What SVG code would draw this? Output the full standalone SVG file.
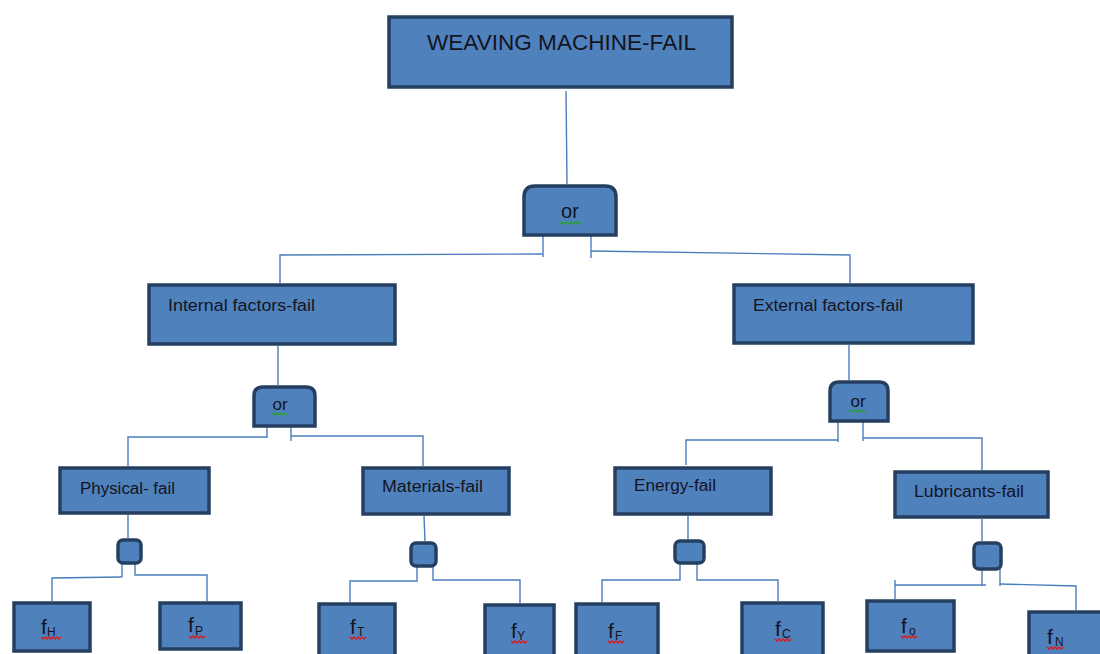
<svg xmlns="http://www.w3.org/2000/svg" width="1100" height="654" viewBox="0 0 1100 654">
<defs>
<style>
.box{fill:#4F81BD;stroke:#243F60;stroke-width:3.5}
.gate{fill:#4F81BD;stroke:#243F60;stroke-width:3.5}
.lbl{font-family:"Liberation Sans",Arial,sans-serif;fill:#14141f}
.big{font-size:22px}
.mid{font-size:16px}
.or{font-size:20px}
.f{font-size:21px}
.sub{font-size:12px}
.con{fill:none;stroke:#4A7EBB;stroke-width:1.4}
.sq{fill:none;stroke-width:1.3}
.sqr{stroke:#E01818}
.sqg{stroke:#2E9E3A}
</style>
</defs>
<rect width="1100" height="654" fill="#ffffff"/>

<g id="connectors">
<polyline class="con" points="566,91 567,184"/>
<polyline class="con" points="543,232 543,257"/>
<polyline class="con" points="543,254 280,255 280,283"/>
<polyline class="con" points="591,232 591,258"/>
<polyline class="con" points="591,251 850,255 850,283"/>

<polyline class="con" points="278,346 278,385"/>
<polyline class="con" points="267,420 267,438"/>
<polyline class="con" points="267,437 128,437 128,466"/>
<polyline class="con" points="291,420 291,441"/>
<polyline class="con" points="291,436 423,436 423,466"/>

<polyline class="con" points="849,345 849,380"/>
<polyline class="con" points="838,415 838,442"/>
<polyline class="con" points="838,440 686,440 686,465"/>
<polyline class="con" points="863,415 863,441"/>
<polyline class="con" points="863,438 982,438 982,470"/>

<polyline class="con" points="128,515 128,538"/>
<polyline class="con" points="122,562 122,577"/>
<polyline class="con" points="122,577 52,578 52,601"/>
<polyline class="con" points="135,562 135,575 207,575 207,601"/>

<polyline class="con" points="424,516 425,541"/>
<polyline class="con" points="417,565 417,581 350,581 350,602"/>
<polyline class="con" points="433,565 433,580 520,580 520,603"/>

<polyline class="con" points="688,516 688,539"/>
<polyline class="con" points="680,562 680,580 602,580 602,602"/>
<polyline class="con" points="697,562 697,580 778,580 778,601"/>

<polyline class="con" points="982,519 982,541"/>
<polyline class="con" points="982,568 982,586"/>
<polyline class="con" points="986,585 895,585"/>
<polyline class="con" points="895,580 895,599"/>
<polyline class="con" points="1000,568 1000,586"/>
<polyline class="con" points="1000,584 1076,586 1076,610"/>
</g>

<g id="top">
<rect class="box" x="389" y="17" width="343" height="70"/>
<text class="lbl big" x="427" y="50" textLength="269" lengthAdjust="spacingAndGlyphs">WEAVING MACHINE-FAIL</text>
</g>

<g id="or-top">
<path class="gate" d="M524,235 L524,197 Q524,186 535,186 L605,186 Q616,186 616,197 L616,235 Z"/>
<text class="lbl or" x="570" y="218" text-anchor="middle">or</text>
<polyline class="sq sqg" points="559,222 561,224 563,222 565,224 567,222 569,224 571,222 573,224 575,222 577,224 579,222 581,224"/>
</g>

<g id="internal">
<rect class="box" x="149" y="285" width="246" height="59"/>
<text class="lbl mid" x="168" y="311" textLength="147" lengthAdjust="spacingAndGlyphs">Internal factors-fail</text>
</g>

<g id="external">
<rect class="box" x="734" y="285" width="239" height="58"/>
<text class="lbl mid" x="753" y="311" textLength="150" lengthAdjust="spacingAndGlyphs">External factors-fail</text>
</g>

<g id="or-internal">
<path class="gate" d="M254,426 L254,396 Q254,387 263,387 L306,387 Q315,387 315,396 L315,426 Z"/>
<text class="lbl or" x="280" y="410" text-anchor="middle" style="font-size:17px">or</text>
<polyline class="sq sqg" points="272,413 274,415 276,413 278,415 280,413 282,415 284,413 286,415 288,413"/>
</g>

<g id="or-external">
<path class="gate" d="M830,421 L830,391 Q830,382 839,382 L879,382 Q888,382 888,391 L888,421 Z"/>
<text class="lbl or" x="858" y="407" text-anchor="middle" style="font-size:17px">or</text>
<polyline class="sq sqg" points="850,410 852,412 854,410 856,412 858,410 860,412 862,410 864,412 866,410"/>
</g>

<g id="physical">
<rect class="box" x="60" y="468" width="149" height="45"/>
<text class="lbl mid" x="80" y="494" textLength="95" lengthAdjust="spacingAndGlyphs">Physical- fail</text>
</g>

<g id="materials">
<rect class="box" x="363" y="468" width="146" height="46"/>
<text class="lbl mid" x="382" y="492" textLength="101" lengthAdjust="spacingAndGlyphs">Materials-fail</text>
</g>

<g id="energy">
<rect class="box" x="615" y="468" width="156" height="46"/>
<text class="lbl mid" x="634" y="491" textLength="82" lengthAdjust="spacingAndGlyphs">Energy-fail</text>
</g>

<g id="lubricants">
<rect class="box" x="895" y="472" width="153" height="45"/>
<text class="lbl mid" x="914" y="497" textLength="110" lengthAdjust="spacingAndGlyphs">Lubricants-fail</text>
</g>

<g id="gate-physical"><rect class="gate" x="118" y="540" width="23" height="23" rx="5"/></g>
<g id="gate-materials"><rect class="gate" x="411" y="543" width="25" height="23" rx="5"/></g>
<g id="gate-energy"><rect class="gate" x="675" y="541" width="29" height="22" rx="5"/></g>
<g id="gate-lubricants"><rect class="gate" x="974" y="543" width="27" height="26" rx="5"/></g>

<g id="fH">
<rect class="box" x="14" y="603" width="76" height="48"/>
<text class="lbl f" x="41" y="634">f</text><text class="lbl sub" x="47" y="636">H</text>
<polyline class="sq sqr" points="41,637 43,639 45,637 47,639 49,637 51,639 53,637 55,639 57,637 59,639 61,637"/>
</g>
<g id="fP">
<rect class="box" x="160" y="603" width="81" height="46"/>
<text class="lbl f" x="188" y="632">f</text><text class="lbl sub" x="195" y="635">P</text>
<polyline class="sq sqr" points="189,636 191,638 193,636 195,638 197,636 199,638 201,636 203,638 205,636"/>
</g>
<g id="fT">
<rect class="box" x="319" y="604" width="76" height="52"/>
<text class="lbl f" x="350" y="634">f</text><text class="lbl sub" x="357" y="636">T</text>
<polyline class="sq sqr" points="350,637 352,639 354,637 356,639 358,637 360,639 362,637 364,639 366,637"/>
</g>
<g id="fY">
<rect class="box" x="485" y="605" width="69" height="52"/>
<text class="lbl f" x="511" y="638">f</text><text class="lbl sub" x="517" y="640">Y</text>
<polyline class="sq sqr" points="511,641 513,643 515,641 517,643 519,641 521,643 523,641 525,643 527,641"/>
</g>
<g id="fF">
<rect class="box" x="576" y="604" width="82" height="52"/>
<text class="lbl f" x="608" y="638">f</text><text class="lbl sub" x="615" y="640">F</text>
<polyline class="sq sqr" points="608,641 610,643 612,641 614,643 616,641 618,643 620,641 622,643 624,641"/>
</g>
<g id="fC">
<rect class="box" x="742" y="603" width="81" height="53"/>
<text class="lbl f" x="775" y="636">f</text><text class="lbl sub" x="782" y="638">C</text>
<polyline class="sq sqr" points="775,639 777,641 779,639 781,641 783,639 785,641 787,639 789,641 791,639"/>
</g>
<g id="fO">
<rect class="box" x="867" y="601" width="87" height="50"/>
<text class="lbl f" x="901" y="633">f</text><text class="lbl sub" x="909" y="635">o</text>
<polyline class="sq sqr" points="901,636 903,638 905,636 907,638 909,636 911,638 913,636 915,638 917,636"/>
</g>
<g id="fN">
<rect class="box" x="1029" y="612" width="80" height="50"/>
<text class="lbl f" x="1047" y="644">f</text><text class="lbl sub" x="1055" y="646">N</text>
<polyline class="sq sqr" points="1047,647 1049,649 1051,647 1053,649 1055,647 1057,649 1059,647 1061,649 1063,647"/>
</g>
</svg>
